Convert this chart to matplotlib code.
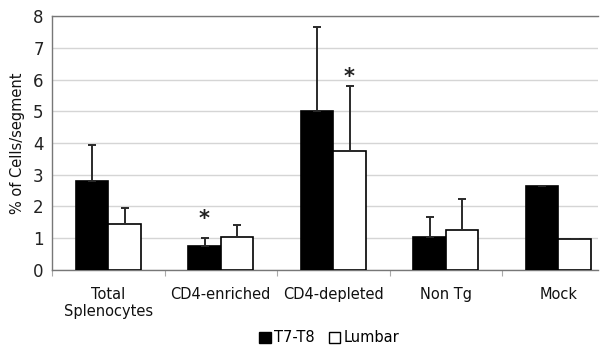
import numpy as np
import matplotlib
matplotlib.use("Agg")
from matplotlib import pyplot as plt
from matplotlib.patches import Patch

# dados
categorias = ["Total\nSplenocytes", "CD4-enriched", "CD4-depleted", "Non Tg", "Mock"]
t7_t8 = [2.8, 0.77, 5.0, 1.05, 2.66]
t7_t8_err = [1.15, 0.25, 2.64, 0.63, np.nan]
lumbar = [1.46, 1.05, 3.74, 1.27, 0.99]
lumbar_err = [0.50, 0.36, 2.06, 0.97, np.nan]
asteriscos = [(1, 0, 1.62), (2, 1, 6.08)]  # (categoria, serie, altura)

plt.rcParams['font.family'] = ['DejaVu Sans']

fig = plt.figure(figsize=(6.04, 3.46), dpi=100)
ax = fig.add_axes([0.0861, 0.2197, 0.904, 0.734])

x = np.arange(len(categorias))
w = 0.289
ekw = dict(ecolor='#2a2a2a', elinewidth=1.4, capthick=1.4)

ax.bar(x - w/2, t7_t8, w, color='black', edgecolor='black', linewidth=1.2,
       yerr=[np.zeros(5), t7_t8_err], capsize=3, error_kw=ekw, zorder=3)
ax.bar(x + w/2, lumbar, w, color='white', edgecolor='black', linewidth=1.2,
       yerr=[np.zeros(5), lumbar_err], capsize=3, error_kw=ekw, zorder=3)

for c, s, h in asteriscos:
    xp = x[c] - w/2 if s == 0 else x[c] + w/2
    ax.text(xp, h, "*", ha='center', va='center', fontsize=15,
            fontweight='bold', color='#222222')

ax.set_ylim(0, 8)
ax.set_xlim(-0.5, 4.353)
ax.set_yticks(range(0, 9))
ax.tick_params(axis='y', labelsize=12, length=0, pad=6, colors='#222222')
ax.set_xticks(np.arange(-0.5, 4.5, 1.0), minor=False)
ax.set_xticklabels([])
ax.set_xticks(x, minor=True)
ax.set_xticklabels(categorias, minor=True, fontsize=10.5, color='#111111')
ax.tick_params(axis='x', which='major', length=4, color='#aaaaaa', direction='out')
ax.tick_params(axis='x', which='minor', length=0, pad=12)

ax.yaxis.grid(True, color='#d5d5d5', linewidth=1.0, zorder=0)
ax.set_axisbelow(True)
for sp in ['left', 'bottom', 'top']:
    ax.spines[sp].set_color('#777777')
    ax.spines[sp].set_linewidth(1.0)
ax.spines['right'].set_visible(False)

ax.set_ylabel("% of Cells/segment", fontsize=10.5, color='#111111', labelpad=6)

handles = [Patch(facecolor='black', edgecolor='black', label='T7-T8'),
           Patch(facecolor='white', edgecolor='black', label='Lumbar')]
fig.legend(handles=handles, loc='center', bbox_to_anchor=(329/604, 1 - 338/346),
           ncol=2, frameon=False, fontsize=10.5, handlelength=0.8, handleheight=0.8,
           handletextpad=0.2, columnspacing=1.0, borderaxespad=0)

fig.savefig("out.png", dpi=100)
